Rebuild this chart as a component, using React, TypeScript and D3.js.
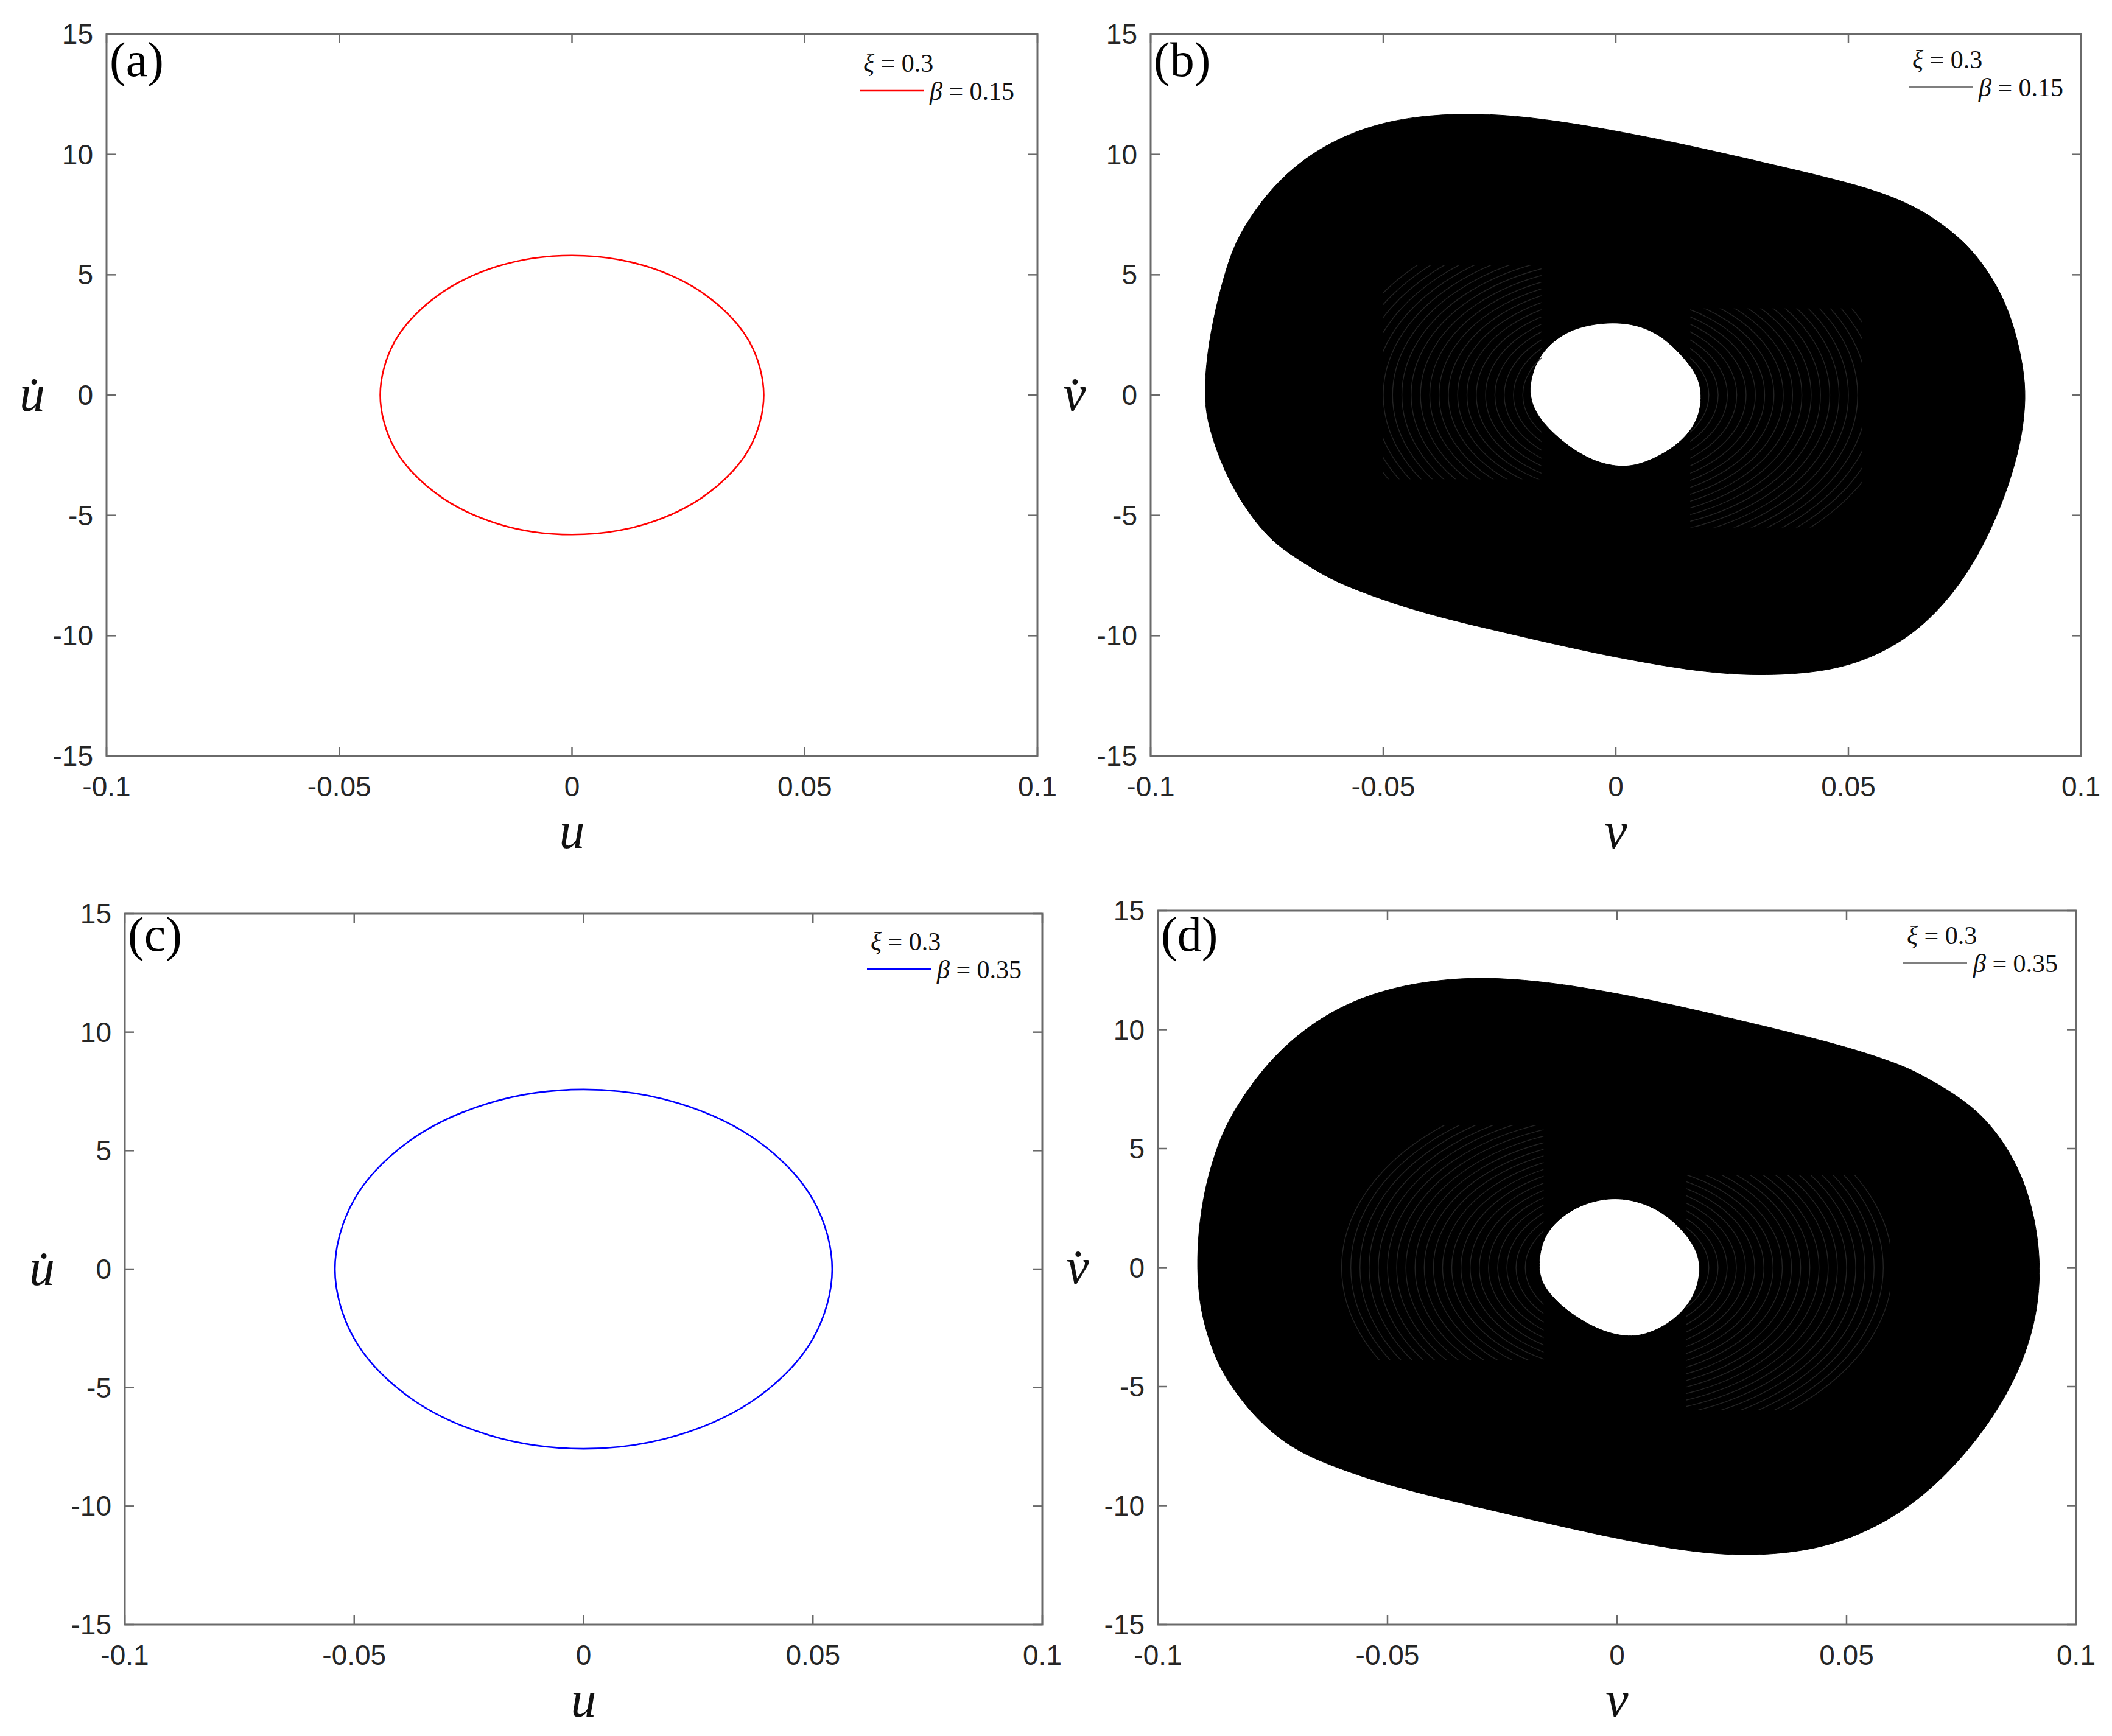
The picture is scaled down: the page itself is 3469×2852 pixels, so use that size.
import React from "react";
import * as d3 from "d3";

// ---------- data ----------
const X_TICKS = [-0.1, -0.05, 0, 0.05, 0.1];
const X_TICK_LABELS = ["-0.1", "-0.05", "0", "0.05", "0.1"];
const Y_TICKS = [-15, -10, -5, 0, 5, 10, 15];
const Y_TICK_LABELS = ["-15", "-10", "-5", "0", "5", "10", "15"];

// (a) periodic orbit, beta = 0.15 : [u, u-dot]
const orbitA: [number, number][] = [
  [0.0412, 0], [0.0381, 2.22], [0.0291, 4.1], [0.0158, 5.36], [0, 5.8],
  [-0.0158, 5.36], [-0.0291, 4.1], [-0.0381, 2.22], [-0.0412, 0],
  [-0.0381, -2.22], [-0.0291, -4.1], [-0.0158, -5.36], [0, -5.8],
  [0.0158, -5.36], [0.0291, -4.1], [0.0381, -2.22],
];

// (c) periodic orbit, beta = 0.35 : [u, u-dot]
const orbitC: [number, number][] = [
  [0.0542, 0], [0.0501, 2.9], [0.0383, 5.36], [0.0207, 7.0], [0, 7.58],
  [-0.0207, 7.0], [-0.0383, 5.36], [-0.0501, 2.9], [-0.0542, 0],
  [-0.0501, -2.9], [-0.0383, -5.36], [-0.0207, -7.0], [0, -7.58],
  [0.0207, -7.0], [0.0383, -5.36], [0.0501, -2.9],
];

// (b) filled trajectory band, beta = 0.15 : outer / inner envelopes [v, v-dot]
const bandBOuter: [number, number][] = [
  [-0.0885, 0], [-0.0879, 1.7], [-0.0862, 3.5], [-0.0836, 5.4], [-0.0809, 6.77],
  [-0.0732, 8.88], [-0.063, 10.4], [-0.0515, 11.3], [-0.04, 11.65], [-0.0286, 11.7],
  [-0.0171, 11.52], [-0.0031, 11.1], [0.0148, 10.42], [0.0339, 9.57], [0.0531, 8.7],
  [0.0633, 7.95], [0.0696, 7.2], [0.076, 6.2], [0.0811, 4.86], [0.0845, 3.52],
  [0.0868, 1.99], [0.0881, 0.46], [0.0879, -0.8], [0.0868, -2.2], [0.0839, -4.13],
  [0.0788, -6.41], [0.0724, -8.34], [0.0635, -10.08], [0.0518, -11.22], [0.0403, -11.6],
  [0.0276, -11.66], [0.0148, -11.42], [-0.0043, -10.75], [-0.0235, -9.89], [-0.0426, -9.03],
  [-0.058, -7.96], [-0.0636, -7.4], [-0.0692, -6.72], [-0.0741, -6.05], [-0.079, -4.9],
  [-0.0829, -3.65], [-0.0857, -2.4], [-0.0878, -1.1],
];
const bandBInner: [number, number][] = [
  [-0.0188, 0], [-0.0179, 1.03], [-0.0154, 1.93], [-0.0102, 2.72], [-0.0031, 3.02],
  [0.0034, 2.99], [0.0093, 2.56], [0.0144, 1.63], [0.0178, 0.76], [0.0186, -0.11],
  [0.0175, -1.18], [0.0131, -2.15], [0.006, -2.87], [0.0008, -3.02], [-0.0051, -2.74],
  [-0.0109, -2.06], [-0.0167, -0.99],
];

// (d) filled trajectory band, beta = 0.35
const bandDOuter: [number, number][] = [
  [-0.0915, 0], [-0.0912, 1.5], [-0.09, 3.16], [-0.0878, 4.7], [-0.0849, 6.2],
  [-0.0772, 8.42], [-0.0682, 10.06], [-0.0579, 11.22], [-0.0464, 11.9], [-0.0337, 12.19],
  [-0.0235, 12.15], [-0.0107, 11.9], [0.0084, 11.22], [0.0276, 10.35], [0.0467, 9.47],
  [0.0607, 8.62], [0.0668, 8.07], [0.0772, 6.87], [0.0834, 5.55], [0.088, 4.0],
  [0.0908, 2.3], [0.0922, 0.46], [0.0919, -1.45], [0.0896, -3.37], [0.0852, -5.28],
  [0.0788, -7.17], [0.0698, -9.12], [0.0594, -10.65], [0.0467, -11.72], [0.0339, -12.08],
  [0.0224, -12.08], [0.0084, -11.72], [-0.0107, -10.95], [-0.0298, -10.08], [-0.049, -9.22],
  [-0.0632, -8.27], [-0.0696, -7.69], [-0.0747, -7.02], [-0.0798, -6.07], [-0.0836, -5.1],
  [-0.0868, -4.13], [-0.0894, -2.79], [-0.091, -1.45],
];
const bandDInner: [number, number][] = [
  [-0.0173, 0], [-0.0163, 1.16], [-0.0135, 1.93], [-0.0083, 2.63], [-0.0018, 2.95],
  [0.0041, 2.83], [0.0099, 2.36], [0.015, 1.45], [0.0178, 0.58], [0.0182, -0.31],
  [0.0165, -1.38], [0.0118, -2.33], [0.006, -2.85], [0.0014, -2.91], [-0.0044, -2.6],
  [-0.0109, -1.85], [-0.016, -0.87],
];

// faint fringe rings inside the bands (v half-widths of the visible rings)
const fringeRings = [
  0.02, 0.022, 0.024, 0.026, 0.028, 0.03, 0.032, 0.034, 0.036, 0.038, 0.04,
  0.042, 0.044, 0.046, 0.048, 0.05, 0.052, 0.054, 0.056, 0.058, 0.06,
];
// fringe regions: [vMin, vMax, vdotMin, vdotMax]
const fringeB: [number, number, number, number][] = [
  [-0.05, -0.016, -3.5, 5.4],
  [0.016, 0.053, -5.5, 3.6],
];
const fringeD: [number, number, number, number][] = [
  [-0.0605, -0.016, -3.9, 6.0],
  [0.015, 0.0595, -6.0, 3.9],
];

const SANS = "'Liberation Sans', Arial, Helvetica, sans-serif";
const SERIF = "'Liberation Serif', 'Times New Roman', Times, serif";

type Box = { l: number; r: number; t: number; b: number };

interface PanelCfg {
  id: string;
  box: Box;
  tag: string;
  tagDy: number;
  xLabel: string;
  yLabel: string;
  yLabelDx: number;
  beta: string;
  legendL: number;
  legendY: number;
  legendColor: string;
  legendWidth: number;
  orbit?: [number, number][];
  orbitColor?: string;
  outer?: [number, number][];
  inner?: [number, number][];
  fringe?: [number, number, number, number][];
}

const PANELS: PanelCfg[] = [
  {
    id: "a", box: { l: 175, r: 1704, t: 56, b: 1242 }, tag: "(a)", tagDy: 69,
    xLabel: "u", yLabel: "u\u0307", yLabelDx: 122, beta: "0.15",
    legendL: 1412, legendY: 149, legendColor: "#ff0000", legendWidth: 2.5,
    orbit: orbitA, orbitColor: "#ff0000",
  },
  {
    id: "b", box: { l: 1890, r: 3418, t: 56, b: 1242 }, tag: "(b)", tagDy: 69,
    xLabel: "v", yLabel: "v\u0307", yLabelDx: 125, beta: "0.15",
    legendL: 3135, legendY: 143, legendColor: "#7f7f7f", legendWidth: 3.5,
    outer: bandBOuter, inner: bandBInner, fringe: fringeB,
  },
  {
    id: "c", box: { l: 205, r: 1712, t: 1501, b: 2669 }, tag: "(c)", tagDy: 61,
    xLabel: "u", yLabel: "u\u0307", yLabelDx: 136, beta: "0.35",
    legendL: 1424, legendY: 1592, legendColor: "#0000ff", legendWidth: 2.5,
    orbit: orbitC, orbitColor: "#0000ff",
  },
  {
    id: "d", box: { l: 1902, r: 3410, t: 1496, b: 2669 }, tag: "(d)", tagDy: 66,
    xLabel: "v", yLabel: "v\u0307", yLabelDx: 132, beta: "0.35",
    legendL: 3126, legendY: 1582, legendColor: "#7f7f7f", legendWidth: 3.5,
    outer: bandDOuter, inner: bandDInner, fringe: fringeD,
  },
];

function Panel({ cfg }: { cfg: PanelCfg }) {
  const { box } = cfg;
  const x = d3.scaleLinear().domain([-0.1, 0.1]).range([box.l, box.r]);
  const y = d3.scaleLinear().domain([-15, 15]).range([box.b, box.t]);
  const orbitLine = d3
    .line<[number, number]>()
    .x((d) => x(d[0]))
    .y((d) => y(d[1]))
    .curve(d3.curveCatmullRomClosed.alpha(0.5));
  const bandLine = d3
    .line<[number, number]>()
    .x((d) => x(d[0]))
    .y((d) => y(d[1]))
    .curve(d3.curveBasisClosed);

  const axisColor = "#6a6a6a";
  const tickLen = 15;
  const textColor = "#262626";
  const clipId = `clip-${cfg.id}`;
  const fringeClip = `fringe-${cfg.id}`;

  return (
    <g>
      <defs>
        <clipPath id={clipId}>
          <rect x={box.l} y={box.t} width={box.r - box.l} height={box.b - box.t} />
        </clipPath>
        {cfg.fringe && (
          <clipPath id={fringeClip}>
            {cfg.fringe.map((f, i) => (
              <rect
                key={i}
                x={x(f[0])}
                y={y(f[3])}
                width={x(f[1]) - x(f[0])}
                height={y(f[2]) - y(f[3])}
              />
            ))}
          </clipPath>
        )}
      </defs>

      {/* data */}
      <g clipPath={`url(#${clipId})`}>
        {cfg.orbit && (
          <path d={orbitLine(cfg.orbit) || ""} fill="none" stroke={cfg.orbitColor} strokeWidth={2.6} />
        )}
        {cfg.outer && cfg.inner && (
          <path
            d={(bandLine(cfg.outer) || "") + (bandLine(cfg.inner) || "")}
            fill="#000"
            fillRule="evenodd"
            stroke="#000"
            strokeWidth={1}
          />
        )}
        {cfg.fringe && (
          <g clipPath={`url(#${fringeClip})`}>
            {fringeRings.map((r, i) => (
              <ellipse
                key={i}
                cx={x(0)}
                cy={y(0)}
                rx={x(r) - x(0)}
                ry={y(0) - y(r * 128)}
                fill="none"
                stroke="#242424"
                strokeWidth={1.4}
              />
            ))}
          </g>
        )}
      </g>

      {/* axes box */}
      <rect
        x={box.l}
        y={box.t}
        width={box.r - box.l}
        height={box.b - box.t}
        fill="none"
        stroke={axisColor}
        strokeWidth={3}
      />
      {X_TICKS.map((t, i) => (
        <g key={`xt${i}`}>
          <line x1={x(t)} x2={x(t)} y1={box.b} y2={box.b - tickLen} stroke={axisColor} strokeWidth={2.5} />
          <line x1={x(t)} x2={x(t)} y1={box.t} y2={box.t + tickLen} stroke={axisColor} strokeWidth={2.5} />
          <text
            x={x(t)}
            y={box.b + 66}
            textAnchor="middle"
            fontFamily={SANS}
            fontSize={46}
            fill={textColor}
          >
            {X_TICK_LABELS[i]}
          </text>
        </g>
      ))}
      {Y_TICKS.map((t, i) => (
        <g key={`yt${i}`}>
          <line x1={box.l} x2={box.l + tickLen} y1={y(t)} y2={y(t)} stroke={axisColor} strokeWidth={2.5} />
          <line x1={box.r} x2={box.r - tickLen} y1={y(t)} y2={y(t)} stroke={axisColor} strokeWidth={2.5} />
          <text
            x={box.l - 22}
            y={y(t) + 16}
            textAnchor="end"
            fontFamily={SANS}
            fontSize={46}
            fill={textColor}
          >
            {Y_TICK_LABELS[i]}
          </text>
        </g>
      ))}

      {/* axis labels */}
      <text
        x={(box.l + box.r) / 2}
        y={box.b + 151}
        textAnchor="middle"
        fontFamily={SERIF}
        fontStyle="italic"
        fontSize={84}
        fill="#111"
      >
        {cfg.xLabel}
      </text>
      <text
        x={box.l - cfg.yLabelDx}
        y={y(0) + 26}
        textAnchor="middle"
        fontFamily={SERIF}
        fontStyle="italic"
        fontSize={84}
        fill="#111"
      >
        {cfg.yLabel}
      </text>

      {/* panel tag */}
      <text x={box.l + 5} y={box.t + cfg.tagDy} fontFamily={SERIF} fontSize={80} fill="#000">
        {cfg.tag}
      </text>

      {/* legend */}
      <text x={cfg.legendL + 6} y={cfg.legendY - 31} fontFamily={SERIF} fontSize={42} fill="#111">
        <tspan fontStyle="italic">ξ</tspan>
        <tspan> = 0.3</tspan>
      </text>
      <line
        x1={cfg.legendL}
        x2={cfg.legendL + 105}
        y1={cfg.legendY}
        y2={cfg.legendY}
        stroke={cfg.legendColor}
        strokeWidth={cfg.legendWidth}
      />
      <text x={cfg.legendL + 115} y={cfg.legendY + 15} fontFamily={SERIF} fontSize={42} fill="#111">
        <tspan fontStyle="italic">β</tspan>
        <tspan>{` = ${cfg.beta}`}</tspan>
      </text>
    </g>
  );
}

export default function App() {
  return (
    <svg
      width={3469}
      height={2852}
      viewBox="0 0 3469 2852"
      style={{ position: "absolute", left: 0, top: 0, background: "#fff", display: "block" }}
    >
      <rect x={0} y={0} width={3469} height={2852} fill="#fff" />
      {PANELS.map((p) => (
        <Panel key={p.id} cfg={p} />
      ))}
    </svg>
  );
}
